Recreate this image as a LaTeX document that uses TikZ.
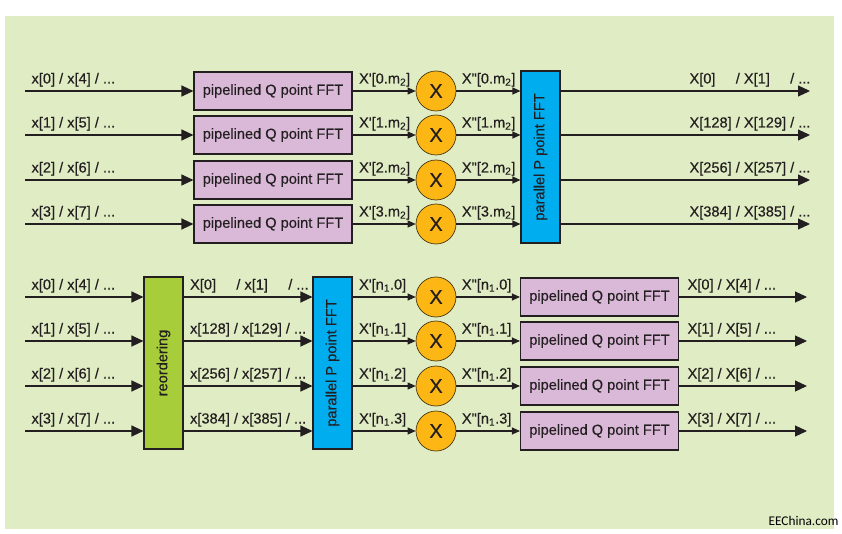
\documentclass[tikz,border=0pt]{standalone}
\usepackage{graphicx}
\usepackage{fontspec}
\setmainfont{Liberation Sans}[FakeBold=0.35]
\newfontfamily\credfont{Carlito}
\usetikzlibrary{arrows.meta}

\definecolor{panel}{RGB}{224,237,196}
\definecolor{pipe}{RGB}{217,184,216}
\definecolor{fftblue}{RGB}{0,174,239}
\definecolor{reord}{RGB}{168,205,58}
\definecolor{mult}{RGB}{253,183,20}
\definecolor{ink}{RGB}{35,31,32}

\newcommand\xq{X\textquotesingle}
\newcommand\xqq{X\textquotedbl}

\begin{document}
\begin{tikzpicture}[x=1pt,y=-1pt,line width=1.1pt,draw=ink,
  every node/.style={font=\fontsize{14.6}{16}\selectfont,text=ink},
  pq/.style={draw=ink,fill=pipe,minimum width=158pt,minimum height=38pt,inner sep=0pt},
  pp/.style={draw=ink,fill=fftblue,minimum width=39pt,minimum height=172pt,inner sep=0pt},
  ro/.style={draw=ink,fill=reord,minimum width=39pt,minimum height=172pt,inner sep=0pt},
  mul/.style={circle,draw=ink!60!mult!60!black,line width=0.7pt,fill=mult,minimum size=40pt,inner sep=0pt,font=\fontsize{20}{20}\selectfont},
  big/.style={-{Triangle[length=12pt,width=11pt]}},
  small/.style={-{Triangle[length=8pt,width=7pt]}},
  tag/.style={pos=0,anchor=base west,inner sep=0pt,xshift=6pt,yshift=7.5pt},
  rtag/.style={pos=1,anchor=base east,inner sep=0pt,xshift=1pt,yshift=7.5pt}]
\useasboundingbox (0,0) rectangle (842,534);
\fill[panel] (5,16) rectangle (834,529);

\coordinate (ia) at (25,91);
\coordinate (ib) at (25,135);
\coordinate (ic) at (25,180);
\coordinate (id) at (25,224);
\node[pq] (qa) at (273,91) {pipelined Q point FFT};
\node[pq] (qb) at (273,135) {pipelined Q point FFT};
\node[pq] (qc) at (273,180) {pipelined Q point FFT};
\node[pq] (qd) at (273,224) {pipelined Q point FFT};
\node[mul] (ma) at (436,91) {X};
\node[mul] (mb) at (436,135) {X};
\node[mul] (mc) at (436,180) {X};
\node[mul] (md) at (436,224) {X};
\node[pp] (pt) at (540.5,157) {\rotatebox{90}{parallel P point FFT}};
\coordinate (oa) at (810,91);
\coordinate (ob) at (810,135);
\coordinate (oc) at (810,180);
\coordinate (od) at (810,224);

\draw[big] (ia) -- node[tag]{x[0] / x[4] / ...} (qa);
\draw[big] (ib) -- node[tag]{x[1] / x[5] / ...} (qb);
\draw[big] (ic) -- node[tag]{x[2] / x[6] / ...} (qc);
\draw[big] (id) -- node[tag]{x[3] / x[7] / ...} (qd);
\draw[small] (qa) -- node[tag]{\xq[0.m\textsubscript{2}]} (ma);
\draw[small] (qb) -- node[tag]{\xq[1.m\textsubscript{2}]} (mb);
\draw[small] (qc) -- node[tag]{\xq[2.m\textsubscript{2}]} (mc);
\draw[small] (qd) -- node[tag]{\xq[3.m\textsubscript{2}]} (md);
\draw[small] (ma) -- node[tag,xshift=-1pt]{\xqq[0.m\textsubscript{2}]} (ma -| pt.west);
\draw[small] (mb) -- node[tag,xshift=-1pt]{\xqq[1.m\textsubscript{2}]} (mb -| pt.west);
\draw[small] (mc) -- node[tag,xshift=-1pt]{\xqq[2.m\textsubscript{2}]} (mc -| pt.west);
\draw[small] (md) -- node[tag,xshift=-1pt]{\xqq[3.m\textsubscript{2}]} (md -| pt.west);
\draw[big] (oa -| pt.east) -- node[rtag]{X[0]\phantom{28} / X[1]\phantom{29} / ...} (oa);
\draw[big] (ob -| pt.east) -- node[rtag]{X[128] / X[129] / ...} (ob);
\draw[big] (oc -| pt.east) -- node[rtag]{X[256] / X[257] / ...} (oc);
\draw[big] (od -| pt.east) -- node[rtag]{X[384] / X[385] / ...} (od);

\coordinate (ja) at (25,297);
\coordinate (jb) at (25,341);
\coordinate (jc) at (25,386);
\coordinate (jd) at (25,431);
\node[ro] (ro) at (163.5,363) {\rotatebox{90}{reordering}};
\node[pp] (pb) at (332.5,363) {\rotatebox{90}{parallel P point FFT}};
\node[mul] (na) at (436,297) {X};
\node[mul] (nb) at (436,341) {X};
\node[mul] (nc) at (436,386) {X};
\node[mul] (nd) at (436,431) {X};
\node[pq] (ra) at (599.5,297) {pipelined Q point FFT};
\node[pq] (rb) at (599.5,341) {pipelined Q point FFT};
\node[pq] (rc) at (599.5,386) {pipelined Q point FFT};
\node[pq] (rd) at (599.5,431) {pipelined Q point FFT};
\coordinate (ka) at (807,297);
\coordinate (kb) at (807,341);
\coordinate (kc) at (807,386);
\coordinate (kd) at (807,431);

\draw[big] (ja) -- node[tag]{x[0] / x[4] / ...} (ja -| ro.west);
\draw[big] (jb) -- node[tag]{x[1] / x[5] / ...} (jb -| ro.west);
\draw[big] (jc) -- node[tag]{x[2] / x[6] / ...} (jc -| ro.west);
\draw[big] (jd) -- node[tag]{x[3] / x[7] / ...} (jd -| ro.west);
\draw[big] (ja -| ro.east) -- node[tag]{X[0]\phantom{28} / x[1]\phantom{29} / ...} (ja -| pb.west);
\draw[big] (jb -| ro.east) -- node[tag]{x[128] / x[129] / ...} (jb -| pb.west);
\draw[big] (jc -| ro.east) -- node[tag]{x[256] / x[257] / ...} (jc -| pb.west);
\draw[big] (jd -| ro.east) -- node[tag]{x[384] / x[385] / ...} (jd -| pb.west);
\draw[small] (na -| pb.east) -- node[tag]{\xq[n\textsubscript{1}.0]} (na);
\draw[small] (nb -| pb.east) -- node[tag]{\xq[n\textsubscript{1}.1]} (nb);
\draw[small] (nc -| pb.east) -- node[tag]{\xq[n\textsubscript{1}.2]} (nc);
\draw[small] (nd -| pb.east) -- node[tag]{\xq[n\textsubscript{1}.3]} (nd);
\draw[small] (na) -- node[tag,xshift=-1pt]{\xqq[n\textsubscript{1}.0]} (ra);
\draw[small] (nb) -- node[tag,xshift=-1pt]{\xqq[n\textsubscript{1}.1]} (rb);
\draw[small] (nc) -- node[tag,xshift=-1pt]{\xqq[n\textsubscript{1}.2]} (rc);
\draw[small] (nd) -- node[tag,xshift=-1pt]{\xqq[n\textsubscript{1}.3]} (rd);
\draw[big] (ra) -- node[tag,xshift=2pt]{X[0] / X[4] / ...} (ka);
\draw[big] (rb) -- node[tag,xshift=2pt]{X[1] / X[5] / ...} (kb);
\draw[big] (rc) -- node[tag,xshift=2pt]{X[2] / X[6] / ...} (kc);
\draw[big] (rd) -- node[tag,xshift=2pt]{X[3] / X[7] / ...} (kd);

\node[font=\credfont\fontsize{13.3}{14}\selectfont,text=black,anchor=base east,inner sep=0pt] (cr) at (839,525) {EEChina.com};
\end{tikzpicture}
\end{document}
